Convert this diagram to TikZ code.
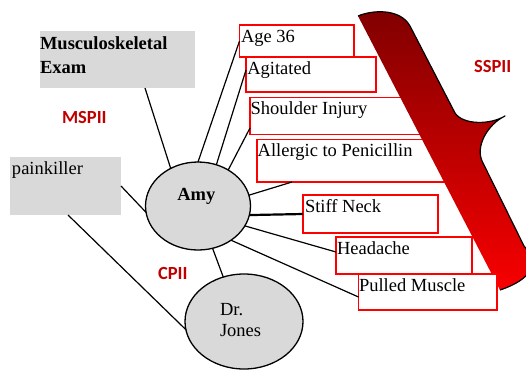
\documentclass[tikz,border=0pt]{standalone}
\usepackage{fontspec}
\setmainfont{Liberation Serif}
\newfontfamily\labelfont{Carlito}
\usetikzlibrary{shapes.geometric,calc}
\definecolor{boxgray}{RGB}{217,217,217}
\definecolor{lblred}{RGB}{192,0,0}
\definecolor{bracetop}{RGB}{128,0,0}
\definecolor{bracebot}{RGB}{248,0,0}
\definecolor{boxred}{RGB}{255,0,0}
\begin{document}
\begin{tikzpicture}[x=1pt,y=-1pt,
  every node/.style={outer sep=0pt},
  graybox/.style={fill=boxgray, inner sep=0pt, anchor=north west},
  redbox/.style={draw=boxred, line width=1.3pt, fill=white, inner sep=0pt, anchor=north west},
  oval/.style={ellipse, draw=black, line width=1.3pt, fill=boxgray, inner sep=0pt},
  txt/.style={anchor=base west, inner sep=0pt, font=\fontsize{18.5}{22}\selectfont},
  btxt/.style={anchor=base west, inner sep=0pt, font=\fontsize{18.5}{22}\selectfont\bfseries},
  lbl/.style={anchor=base west, inner sep=0pt, text=lblred, font=\labelfont\fontsize{18.5}{22}\selectfont\bfseries},
  link/.style={line width=1.2pt},
]
\useasboundingbox (0,0) rectangle (526,370);

% gray boxes
\node[graybox, minimum width=155pt, minimum height=57pt] (musc) at (40,31) {};
\node[graybox, minimum width=111pt, minimum height=58pt] (pain) at (10,157) {};

% ellipses
\node[oval, minimum width=105pt, minimum height=88pt] (amy) at (198,206) {};
\node[oval, minimum width=118pt, minimum height=95pt] (jones) at (244,321.5) {};

% red boxes
\node[redbox, minimum width=114.5pt, minimum height=32pt] (age) at (239.5,25) {};
\node[redbox, minimum width=130pt, minimum height=35pt] (agit) at (246,57) {};
\node[redbox, minimum width=190pt, minimum height=37pt] (shoulder) at (250,97.5) {};
\node[redbox, minimum width=188pt, minimum height=42.5pt] (allergic) at (257,139.5) {};
\node[redbox, minimum width=135pt, minimum height=38pt] (stiff) at (303,195) {};
\node[redbox, minimum width=136pt, minimum height=37pt] (head) at (336,237) {};

% brace
\begin{scope}
\clip (0,0) rectangle (526,370);
\shade[top color=bracetop, bottom color=bracebot]
  (358,16) .. controls (372,10) and (400,8) .. (410,26) -- (455,113)
  .. controls (463,125) and (490,125) .. (505,116)
  .. controls (488,124) and (474,147) .. (483,163) -- (524,246)
  .. controls (548,272) and (512,286) .. (500,290) -- cycle;
\draw[line width=1.2pt, line join=round]
  (358,16) .. controls (372,10) and (400,8) .. (410,26) -- (455,113)
  .. controls (463,125) and (490,125) .. (505,116)
  .. controls (488,124) and (474,147) .. (483,163) -- (524,246)
  .. controls (548,272) and (512,286) .. (500,290);
\end{scope}

\node[redbox, minimum width=138.5pt, minimum height=36pt] (pulled) at (358.5,274) {};

% texts
\node[btxt] (muscA) at (40,49.5) {Musculoskeletal};
\node[btxt] (muscB) at (40,73.5) {Exam};
\node[txt] (painT) at (12,174) {painkiller};
\node[btxt] (amyT) at (177.3,200.7) {Amy};
\node[txt] (drT) at (220,315.7) {Dr.};
\node[txt] (jonesT) at (220,336.7) {Jones};
\node[txt] (ageT) at (241,42.5) {Age 36};
\node[txt] (agitT) at (247.3,74) {Agitated};
\node[txt] (shT) at (250.7,114) {Shoulder Injury};
\node[txt] (alT) at (257.7,156.7) {Allergic to Penicillin};
\node[txt] (stT) at (305,212.7) {Stiff Neck};
\node[txt] (hdT) at (337,254) {Headache};
\node[txt] (pmT) at (359,291.7) {Pulled Muscle};

% red labels
\node[lbl] (mspii) at (62,123) {MSPII};
\node[lbl] (sspii) at (474,72) {SSPII};
\node[lbl] (cpii) at (158,279) {CPII};

% connectors
\draw[link] (amy.126) -- ([xshift=27.5pt]musc.south);
\draw[link] (amy.187) -- (pain.east);
\draw[link] ([xshift=2.5pt]pain.south) -- (jones.188);
\draw[link] (amy.289) -- (jones.115);
\draw[link] (amy.90) -- (age.west);
\draw[link] (amy.66) -- ([yshift=4.5pt]agit.west);
\draw[link] (amy.50) -- ([yshift=-12pt]shoulder.west);
\draw[link] (amy.12) -- ([xshift=35pt]allergic.south west);
\draw[line width=2.2pt] (amy.350) -- (stiff.west);
\draw[link] (amy.337) -- ([yshift=3.5pt]head.west);
\draw[link] (amy.314) -- ([yshift=-5pt]pulled.west);
\end{tikzpicture}
\end{document}
